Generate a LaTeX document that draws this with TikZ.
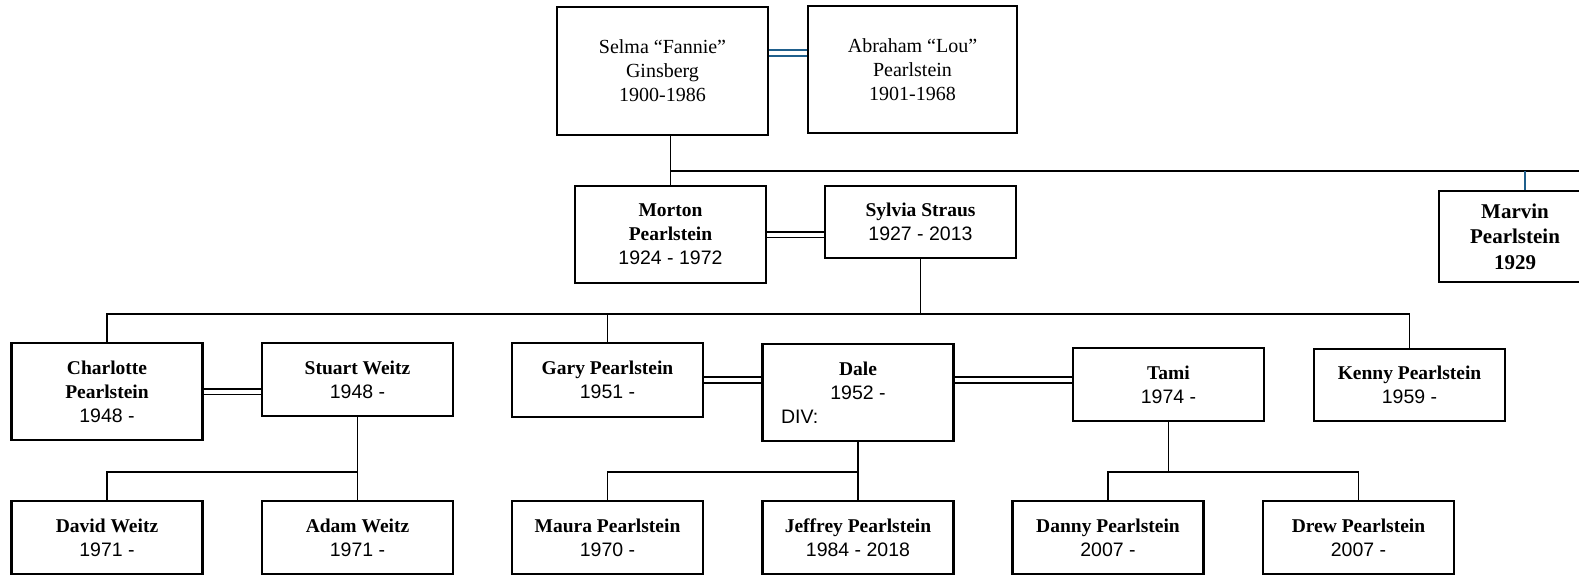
\documentclass[tikz,border=0pt]{standalone}
\usepackage{fontspec}
\setmainfont{Liberation Serif}
\setsansfont{Liberation Sans}
\usepackage{tikz}
\usetikzlibrary{positioning}
\definecolor{famblue}{RGB}{31,95,140}
\tikzset{every node/.append style={transform shape=false}}
\tikzset{
  person/.style={draw, line width=2.2pt, minimum width=191pt, inner sep=0pt,
    align=center, font=\fontsize{19.5}{24}\selectfont},
  elder/.style={draw, line width=1.5pt, inner sep=0pt, align=center,
    font=\fontsize{20}{24}\selectfont},
  kin/.style={line width=1.9pt},
  wed/.style={double, line width=1.9pt, double distance=4pt},
}
\newcommand{\pname}[1]{\textbf{#1}}
\newcommand{\pyear}[1]{{\sffamily #1}}

\begin{document}
\begin{tikzpicture}[x=1pt,y=-1pt]
  \useasboundingbox (0,0) rectangle (1579,576);
  % grandparents
  \node[elder, minimum width=211pt, minimum height=128pt] (selma) at (662.5,71)
    {Selma “Fannie”\\Ginsberg\\1900-1986};
  \node[elder, minimum width=209pt, minimum height=127pt] (abraham) at (912.5,69.5)
    {Abraham “Lou”\\Pearlstein\\1901-1968};
  % children
  \node[person, minimum height=97pt] (morton) at (670.5,234.5)
    {\pname{Morton}\\\pname{Pearlstein}\\\pyear{1924 - 1972}};
  \node[person, minimum height=72pt] (sylvia) at (920.5,222)
    {\pname{Sylvia Straus}\\\pyear{1927 - 2013}};
  \node[person, minimum width=152pt, minimum height=91pt, font=\fontsize{21}{25.5}\selectfont\bfseries]
    (marvin) at (1515,236.5) {Marvin\\Pearlstein\\1929};
  % grandchildren
  \node[person, minimum height=97pt] (charlotte) at (107,391.5)
    {\pname{Charlotte}\\\pname{Pearlstein}\\\pyear{1948 -}};
  \node[person, minimum height=73pt] (stuart) at (357.5,379.5) {\pname{Stuart Weitz}\\\pyear{1948 -}};
  \node[person, minimum height=74pt] (gary) at (607.5,380) {\pname{Gary Pearlstein}\\\pyear{1951 -}};
  \node[person, minimum height=97pt] (dale) at (858,392.5)
    {\pname{Dale}\\\pyear{1952 -}\\\pyear{\makebox[154pt][l]{DIV:}}};
  \node[person, minimum height=73pt] (tami) at (1168.5,384.5) {\pname{Tami}\\\pyear{1974 -}};
  \node[person, minimum height=72pt] (kenny) at (1409.5,385) {\pname{Kenny Pearlstein}\\\pyear{1959 -}};
  % great-grandchildren
  \node[person, minimum height=73pt] (david) at (107,537.5) {\pname{David Weitz}\\\pyear{1971 -}};
  \node[person, minimum height=73pt] (adam) at (357.5,537.5) {\pname{Adam Weitz}\\\pyear{1971 -}};
  \node[person, minimum height=73pt] (maura) at (607.5,537.5) {\pname{Maura Pearlstein}\\\pyear{1970 -}};
  \node[person, minimum height=73pt] (jeffrey) at (858,537.5) {\pname{Jeffrey Pearlstein}\\\pyear{1984 - 2018}};
  \node[person, minimum height=73pt] (danny) at (1108,537.5) {\pname{Danny Pearlstein}\\\pyear{2007 -}};
  \node[person, minimum height=73pt] (drew) at (1358.5,537.5) {\pname{Drew Pearlstein}\\\pyear{2007 -}};

  \coordinate (offpage) at (1579,171);
  \coordinate (bar3) at (0,314);
  \coordinate (bar4) at (0,472);

  % marriages
  \draw[wed, famblue, line width=1.3pt, double distance=4.5pt]
    ([yshift=18pt]selma.east) -- ([yshift=18pt]selma.east -| abraham.west);
  \draw[wed] (morton.east) -- (morton.east -| sylvia.west);
  \draw[wed] (charlotte.east) -- (charlotte.east -| stuart.west);
  \draw[wed] (gary.east) -- (gary.east -| dale.west);
  \draw[wed] (gary.east -| dale.east) -- (gary.east -| tami.west);

  % descent
  \draw[kin] (selma.south -| morton) -- (morton.north);
  \draw[kin] (morton.north |- offpage) -- (offpage);
  \draw[kin, famblue] ([xshift=10pt]marvin.north |- offpage) -- ([xshift=10pt]marvin.north);
  \draw[kin] (sylvia.south) -- (sylvia.south |- bar3);
  \draw[kin] (charlotte.north) |- (kenny.north |- bar3) -- (kenny.north);
  \draw[kin] (gary.north) -- (gary.north |- bar3);
  \draw[kin] (stuart.south) -- (stuart.south |- bar4);
  \draw[kin] (david.north) |- (adam.north |- bar4) -- (adam.north);
  \draw[kin] (dale.south) -- (dale.south |- bar4);
  \draw[kin] (maura.north) |- (jeffrey.north |- bar4) -- (jeffrey.north);
  \draw[kin] (tami.south) -- (tami.south |- bar4);
  \draw[kin] (danny.north) |- (drew.north |- bar4) -- (drew.north);
\end{tikzpicture}
\end{document}
